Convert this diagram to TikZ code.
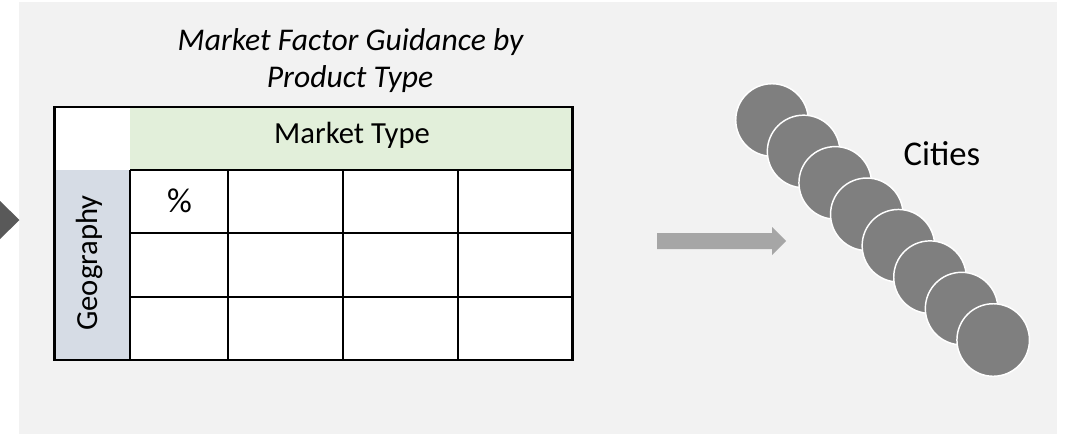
\documentclass[tikz,border=0pt]{standalone}
\usepackage{fontspec}
\setmainfont{Carlito}
\definecolor{panel}{HTML}{F2F2F2}
\definecolor{tric}{HTML}{595959}
\definecolor{hdr}{HTML}{E2EFDA}
\definecolor{geoc}{HTML}{D6DCE5}
\definecolor{arrowc}{HTML}{A6A6A6}
\definecolor{cityc}{HTML}{7F7F7F}
\begin{document}
\begin{tikzpicture}[x=0.75pt,y=-0.75pt,
  grid/.style={draw=black,line width=1.6pt},
  city/.style={circle,fill=cityc,draw=white,line width=1.1pt,minimum size=54.4pt,inner sep=0pt},
  lbl/.style={inner sep=0pt,anchor=base,text=black},
  titlefont/.style={font=\fontsize{23.7}{28}\selectfont\itshape},
  cellfont/.style={font=\fontsize{23}{27}\selectfont},
  bigfont/.style={font=\fontsize{26}{30}\selectfont}]
\useasboundingbox (0,0) rectangle (1068,436);
\fill[panel] (19,2) rectangle (1057,434);
\fill[tric] (0,201) -- (19.5,220) -- (0,239) -- cycle;
% title
\node[lbl,titlefont] (title1) at (350.5,50) {Market Factor Guidance by};
\node[lbl,titlefont] (title2) at (350,87) {Product Type};
% table fills
\fill[white] (54.5,107) rectangle (130,170);
\fill[hdr] (130,107) rectangle (572.5,170);
\fill[geoc] (54.5,170) rectangle (130,360);
\fill[white] (130,170) rectangle (572.5,360);
% grid
\foreach \yy in {170,233.3,297.3} \draw[grid] (130,\yy) -- (572.5,\yy);
\foreach \xx in {130,228,343,457.7} \draw[grid] (\xx,170) -- (\xx,360);
\draw[grid] (54.5,107) rectangle (572.5,360);
% labels
\node[lbl,cellfont] (mtype) at (352,143) {Market Type};
\node[lbl,cellfont,rotate=90] (geo) at (97,263) {Geography};
\node[lbl,bigfont] (pct) at (179.5,212) {\%};
% arrow
\fill[arrowc] (657,233) -- (772,233) -- (772,227) -- (786,241) -- (772,255) -- (772,249) -- (657,249) -- cycle;
% cities
\foreach \i in {0,...,7} \node[city] (c\i) at ({772+31.6*\i},{120+31.43*\i}) {};
\node[lbl,bigfont] (cities) at (942,165) {Cities};
\end{tikzpicture}
\end{document}
